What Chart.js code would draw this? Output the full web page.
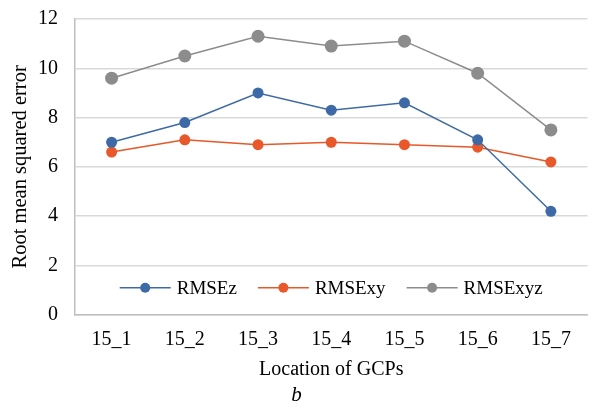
<!DOCTYPE html>
<html>
<head>
<meta charset="utf-8">
<script src="https://cdn.jsdelivr.net/npm/chart.js@4/dist/chart.umd.min.js"></script>
<style>
  html, body { margin: 0; padding: 0; background: #fff; }
  #wrap { width: 594px; height: 409px; }
</style>
</head>
<body>
<div id="wrap"><canvas id="c" width="594" height="409"></canvas></div>
<script>
const locations = ['15_1', '15_2', '15_3', '15_4', '15_5', '15_6', '15_7'];
const rmseZ = [7.0, 7.8, 9.0, 8.3, 8.6, 7.1, 4.2];
const rmseXY = [6.6, 7.1, 6.9, 7.0, 6.9, 6.8, 6.2];
const rmseXYZ = [9.6, 10.5, 11.3, 10.9, 11.1, 9.8, 7.5];

const serif = "'Liberation Serif', 'Times New Roman', serif";

// legend drawn inside the plot area, centred near the bottom
const innerLegend = {
    id: 'innerLegend',
    afterDraw(chart) {
        const ctx = chart.ctx;
        const area = chart.chartArea;
        const y = chart.scales.y.getPixelForValue(1.1);
        ctx.save();
        ctx.font = '19px ' + serif;
        ctx.textBaseline = 'middle';
        const lineLen = 51, gap = 6, spacing = 21;
        const items = chart.data.datasets.map(ds => ({
            ds, w: lineLen + gap + ctx.measureText(ds.label).width
        }));
        const total = items.reduce((s, it) => s + it.w, 0) + spacing * (items.length - 1);
        let x = (area.left + area.right) / 2 - total / 2;
        items.forEach(it => {
            ctx.strokeStyle = it.ds.borderColor;
            ctx.lineWidth = 1.5;
            ctx.beginPath();
            ctx.moveTo(x, y);
            ctx.lineTo(x + lineLen, y);
            ctx.stroke();
            ctx.fillStyle = it.ds.backgroundColor;
            ctx.beginPath();
            ctx.arc(x + lineLen / 2, y, 5, 0, Math.PI * 2);
            ctx.fill();
            ctx.fillStyle = '#000';
            ctx.fillText(it.ds.label, x + lineLen + gap, y + 1);
            x += it.w + spacing;
        });
        ctx.restore();
    }
};

new Chart(document.getElementById('c'), {
    type: 'line',
    data: {
        labels: locations,
        datasets: [
            { label: 'RMSEz', data: rmseZ, borderColor: '#3d6aa6', backgroundColor: '#3d6aa6',
              borderWidth: 1.5, pointRadius: 5.5, pointBorderWidth: 0 },
            { label: 'RMSExy', data: rmseXY, borderColor: '#e8582a', backgroundColor: '#e8582a',
              borderWidth: 1.5, pointRadius: 5.5, pointBorderWidth: 0 },
            { label: 'RMSExyz', data: rmseXYZ, borderColor: '#8c8c8c', backgroundColor: '#8c8c8c',
              borderWidth: 1.5, pointRadius: 6.5, pointBorderWidth: 0 }
        ]
    },
    options: {
        responsive: false,
        animation: false,
        layout: { padding: { left: 0, right: 1, top: 0, bottom: 1 } },
        plugins: {
            legend: { display: false },
            tooltip: { enabled: false },
            title: {
                display: true,
                position: 'bottom',
                text: 'b',
                color: '#000',
                font: { family: serif, size: 21, style: 'italic', weight: 'normal' },
                padding: { top: 0, bottom: 0 }
            }
        },
        scales: {
            x: {
                offset: true,
                afterFit(scale) { scale.height = 68; },
                grid: { display: false, drawTicks: false },
                border: { color: '#bfbfbf', width: 1.5 },
                ticks: { color: '#000', font: { family: serif, size: 20 }, padding: 13, maxRotation: 0 },
                title: { display: true, text: 'Location of GCPs', color: '#000',
                         font: { family: serif, size: 20 }, padding: { top: 0, bottom: 1 } }
            },
            y: {
                min: 0, max: 12,
                afterFit(scale) { scale.width = 75; scale.paddingTop = 19; },
                grid: { color: '#d9d9d9', lineWidth: 1.5, drawTicks: false },
                border: { color: '#bfbfbf', width: 1.5 },
                ticks: { stepSize: 2, color: '#000', font: { family: serif, size: 20 }, padding: 17 },
                title: { display: true, text: 'Root mean squared error', color: '#000',
                         font: { family: serif, size: 20.5 }, padding: { top: 8, bottom: 0 } }
            }
        }
    },
    plugins: [innerLegend]
});
</script>
</body>
</html>
